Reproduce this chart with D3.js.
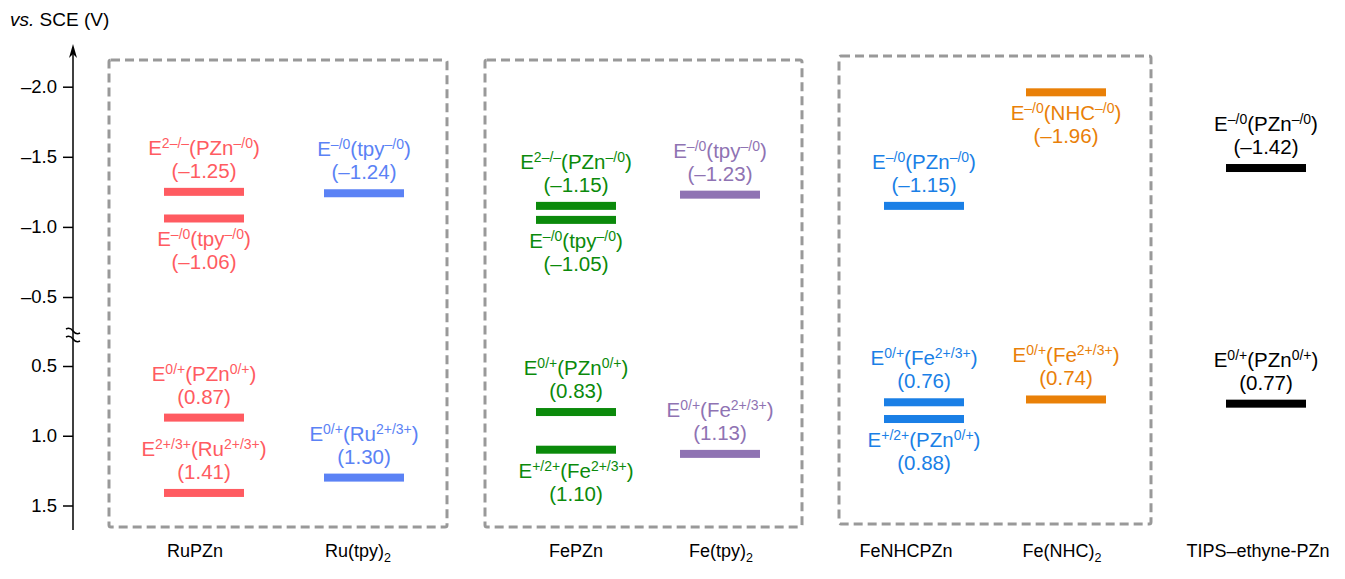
<!DOCTYPE html>
<html>
<head>
<meta charset="utf-8">
<script src="https://cdn.jsdelivr.net/npm/d3@7"></script>
<style>
  body { margin: 0; background: #fff; }
  text { font-family: "Liberation Sans", Arial, sans-serif; }
</style>
</head>
<body>
<div id="chart"></div>
<script>
// Categories (compounds) and their subscript part
var categories = ["RuPZn", "Ru(tpy)2", "FePZn", "Fe(tpy)2", "FeNHCPZn", "Fe(NHC)2", "TIPS–ethyne-PZn"];
var catText = ["RuPZn", "Ru(tpy)", "FePZn", "Fe(tpy)", "FeNHCPZn", "Fe(NHC)", "TIPS–ethyne-PZn"];
var catSub = ["", "2", "", "2", "", "2", ""];
var catColors = ["#ff5b61", "#5b82f5", "#0b8a0b", "#8f73b3", "#1a7fe6", "#e98008", "#000000"];

// Redox levels (V vs. SCE)
var levels = [
    { cat: "RuPZn", v: -1.25, sup: "2–/–", sp: "PZn", spSup: "–/0", side: "above" },
    { cat: "RuPZn", v: -1.06, sup: "–/0", sp: "tpy", spSup: "–/0", side: "below" },
    { cat: "RuPZn", v: 0.87, sup: "0/+", sp: "PZn", spSup: "0/+", side: "above" },
    { cat: "RuPZn", v: 1.41, sup: "2+/3+", sp: "Ru", spSup: "2+/3+", side: "above" },
    { cat: "Ru(tpy)2", v: -1.24, sup: "–/0", sp: "tpy", spSup: "–/0", side: "above" },
    { cat: "Ru(tpy)2", v: 1.30, sup: "0/+", sp: "Ru", spSup: "2+/3+", side: "above" },
    { cat: "FePZn", v: -1.15, sup: "2–/–", sp: "PZn", spSup: "–/0", side: "above" },
    { cat: "FePZn", v: -1.05, sup: "–/0", sp: "tpy", spSup: "–/0", side: "below" },
    { cat: "FePZn", v: 0.83, sup: "0/+", sp: "PZn", spSup: "0/+", side: "above" },
    { cat: "FePZn", v: 1.10, sup: "+/2+", sp: "Fe", spSup: "2+/3+", side: "below" },
    { cat: "Fe(tpy)2", v: -1.23, sup: "–/0", sp: "tpy", spSup: "–/0", side: "above" },
    { cat: "Fe(tpy)2", v: 1.13, sup: "0/+", sp: "Fe", spSup: "2+/3+", side: "above" },
    { cat: "FeNHCPZn", v: -1.15, sup: "–/0", sp: "PZn", spSup: "–/0", side: "above" },
    { cat: "FeNHCPZn", v: 0.76, sup: "0/+", sp: "Fe", spSup: "2+/3+", side: "above" },
    { cat: "FeNHCPZn", v: 0.88, sup: "+/2+", sp: "PZn", spSup: "0/+", side: "below" },
    { cat: "Fe(NHC)2", v: -1.96, sup: "–/0", sp: "NHC", spSup: "–/0", side: "below" },
    { cat: "Fe(NHC)2", v: 0.74, sup: "0/+", sp: "Fe", spSup: "2+/3+", side: "above" },
    { cat: "TIPS–ethyne-PZn", v: -1.42, sup: "–/0", sp: "PZn", spSup: "–/0", side: "above" },
    { cat: "TIPS–ethyne-PZn", v: 0.77, sup: "0/+", sp: "PZn", spSup: "0/+", side: "above" }
];

// Grouped boxes
var groups = [["RuPZn", "Ru(tpy)2"], ["FePZn", "Fe(tpy)2"], ["FeNHCPZn", "Fe(NHC)2"]];

// Axis ticks for the two segments of the broken axis
var ticksTop = [-2.0, -1.5, -1.0, -0.5];
var ticksBottom = [0.5, 1.0, 1.5];

var width = 1345, height = 579;

var svg = d3.select("#chart")
    .append("svg")
    .attr("width", width)
    .attr("height", height);

// Scales
var x = d3.scaleOrdinal()
    .domain(categories)
    .range([204, 364, 576, 720, 924, 1066, 1266]);

// category name positions (labels sit a little off the bar centres)
var xLabel = d3.scaleOrdinal()
    .domain(categories)
    .range([195, 358, 576, 721, 906, 1062, 1258]);

var yTop = d3.scaleLinear().domain([-2.0, -0.5]).range([86.7, 297]);
var yBottom = d3.scaleLinear().domain([0.5, 1.5]).range([366, 505.5]);
var y = function (v) { return v < 0 ? yTop(v) : yBottom(v); };

var color = d3.scaleOrdinal().domain(categories).range(catColors);
var fmt = function (d) { return d3.format(".1f")(d).replace("−", "–").replace("-", "–"); };

var axisX = 73;

// Dashed boxes
groups.forEach(function (g, i) {
    var pads = [[95, 83], [91, 82], [85, 85]][i];
    var x0 = x(g[0]) - pads[0], x1 = x(g[1]) + pads[1];
    var top = [60, 60, 56][i], bottom = [527, 527, 524][i];
    svg.append("rect")
        .attr("x", x0)
        .attr("y", top)
        .attr("width", x1 - x0)
        .attr("height", bottom - top)
        .attr("rx", 2)
        .attr("fill", "none")
        .attr("stroke", "#999")
        .attr("stroke-width", 3)
        .attr("stroke-dasharray", "9,5");
});

// Axis
svg.append("g")
    .attr("transform", "translate(" + axisX + ",0)")
    .call(d3.axisLeft(yTop).tickValues(ticksTop).tickFormat(fmt).tickSize(10).tickPadding(6))
    .call(function (g) { g.select(".domain").remove(); });

svg.append("g")
    .attr("transform", "translate(" + axisX + ",0)")
    .call(d3.axisLeft(yBottom).tickValues(ticksBottom).tickFormat(fmt).tickSize(10).tickPadding(6))
    .call(function (g) { g.select(".domain").remove(); });

svg.selectAll(".tick line").attr("stroke", "#000").attr("stroke-width", 1.5);
svg.selectAll(".tick text")
    .attr("fill", "#000")
    .style("font-size", "18.5px")
    .style("font-family", "'Liberation Sans', Arial, sans-serif");

svg.append("line")
    .attr("x1", axisX).attr("x2", axisX)
    .attr("y1", 530).attr("y2", 48)
    .attr("stroke", "#000")
    .attr("stroke-width", 1.5);

// Arrow head
svg.append("path")
    .attr("d", "M" + axisX + ",44 L" + (axisX - 4) + ",58 L" + axisX + ",54 L" + (axisX + 4) + ",58 Z")
    .attr("fill", "#000");

// Break marks
[333, 341].forEach(function (by) {
    svg.append("path")
        .attr("d", "M" + (axisX - 7) + "," + (by - 4) + " q 4,-2 7,2 t 7,2")
        .attr("fill", "none")
        .attr("stroke", "#000")
        .attr("stroke-width", 1.5);
});

// Axis title
var title = svg.append("text")
    .attr("x", 10)
    .attr("y", 26)
    .style("font-size", "19px");
title.append("tspan").style("font-style", "italic").text("vs.");
title.append("tspan").text(" SCE (V)");

// Energy level bars
svg.append("g")
    .selectAll("rect")
    .data(levels)
    .enter()
    .append("rect")
    .attr("x", function (d) { return x(d.cat) - 40; })
    .attr("y", function (d) { return y(d.v) - 4; })
    .attr("width", 80)
    .attr("height", 8)
    .attr("fill", function (d) { return color(d.cat); });

// Level labels
var valFmt = function (v) { return "(" + d3.format(".2f")(v).replace("−", "–").replace("-", "–") + ")"; };

levels.forEach(function (d) {
    var cx = x(d.cat), by = y(d.v);
    var l1 = d.side === "above" ? by - 37 : by + 28;
    var l2 = d.side === "above" ? by - 14 : by + 51;
    var t = svg.append("text")
        .attr("x", cx)
        .attr("y", l1)
        .attr("text-anchor", "middle")
        .attr("fill", color(d.cat))
        .style("font-size", "20.5px");
    t.append("tspan").text("E");
    t.append("tspan").attr("dy", -7).style("font-size", "14px").text(d.sup);
    t.append("tspan").attr("dy", 7).text("(" + d.sp);
    t.append("tspan").attr("dy", -7).style("font-size", "14px").text(d.spSup);
    t.append("tspan").attr("dy", 7).text(")");

    svg.append("text")
        .attr("x", cx)
        .attr("y", l2)
        .attr("text-anchor", "middle")
        .attr("fill", color(d.cat))
        .style("font-size", "20.5px")
        .text(valFmt(d.v));
});

// Category labels
categories.forEach(function (c, i) {
    var t = svg.append("text")
        .attr("x", xLabel(c))
        .attr("y", 557)
        .attr("text-anchor", "middle")
        .attr("fill", "#000")
        .style("font-size", "18px");
    t.append("tspan").text(catText[i]);
    if (catSub[i]) {
        t.append("tspan").attr("dy", 5).style("font-size", "12.5px").text(catSub[i]);
    }
});
</script>
</body>
</html>
